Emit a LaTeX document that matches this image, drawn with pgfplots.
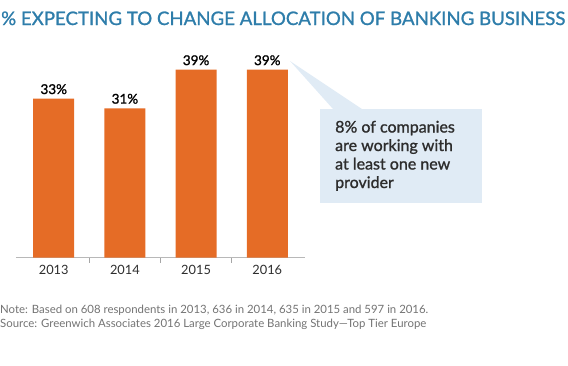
\documentclass[border=0pt]{standalone}
\usepackage{pgfplots}
\pgfplotsset{compat=1.18}
\usepackage{fontspec}
\setmainfont{Lato}
\newfontfamily\semib{Lato}[FakeBold=1.2]
\definecolor{titleblue}{RGB}{46,125,170}
\definecolor{barorange}{RGB}{229,108,38}
\definecolor{calloutblue}{RGB}{224,235,245}
\definecolor{notegray}{RGB}{115,115,115}
\definecolor{textdark}{RGB}{45,45,45}
\begin{document}
\begin{tikzpicture}[x=1pt,y=1pt]
\path[use as bounding box] (0,0) rectangle (568,-365);
% title
\node[anchor=base west, inner sep=0, text=titleblue] at (1,-25)
  {\resizebox{564pt}{!}{\semib\fontsize{18}{20}\selectfont \% EXPECTING TO CHANGE ALLOCATION OF BANKING BUSINESS}};
% callout
\fill[calloutblue] (290,-61) -- (333,-109) -- (362,-109) -- cycle;
\fill[calloutblue] (320,-109) rectangle (482,-203);
\node[anchor=base west, inner sep=0, align=left, text=textdark, font=\semib\fontsize{16}{18.5}\selectfont] at (335,-188)
  {8\% of companies\\are working with\\at least one new\\provider};
\begin{axis}[
  at={(16pt,-257.7pt)}, anchor=south west,
  scale only axis, width=289pt, height=202.44pt,
  xmin=-0.53, xmax=3.53, ymin=0, ymax=42,
  axis x line*=bottom, axis y line=none,
  axis line style={draw=black!28, line width=1.4pt, -},
  ybar, bar width=41pt,
  xtick={0,1,2,3}, xticklabels={2013,2014,2015,2016},
  major tick length=0pt,
  extra x ticks={0.5,1.5,2.5}, extra x tick labels={},
  extra x tick style={major tick length=5pt, tick align=outside, tick style={draw=black!35, line width=0.8pt}},
  x tick label style={font=\fontsize{12.8}{14}\selectfont, text=textdark, yshift=-4pt},
  ytick=\empty,
  /pgf/number format/assume math mode=true,
  nodes near coords={\pgfmathprintnumber{\pgfplotspointmeta}\%},
  every node near coord/.append style={font=\semib\fontsize{13.5}{15}\selectfont, text=black, yshift=1pt},
  clip=false,
]
\addplot[fill=barorange, draw=none] coordinates {(0,33) (1,31) (2,39) (3,39)};
\end{axis}
% footer
\node[anchor=base west, inner sep=0, text=notegray, font=\fontsize{11.4}{14}\selectfont] at (0,-313)
  {Note: Based on 608 respondents in 2013, 636 in 2014, 635 in 2015 and 597 in 2016.};
\node[anchor=base west, inner sep=0, text=notegray, font=\fontsize{11.4}{14}\selectfont] at (0,-327)
  {Source: Greenwich Associates 2016 Large Corporate Banking Study---Top Tier Europe};
\end{tikzpicture}
\end{document}
